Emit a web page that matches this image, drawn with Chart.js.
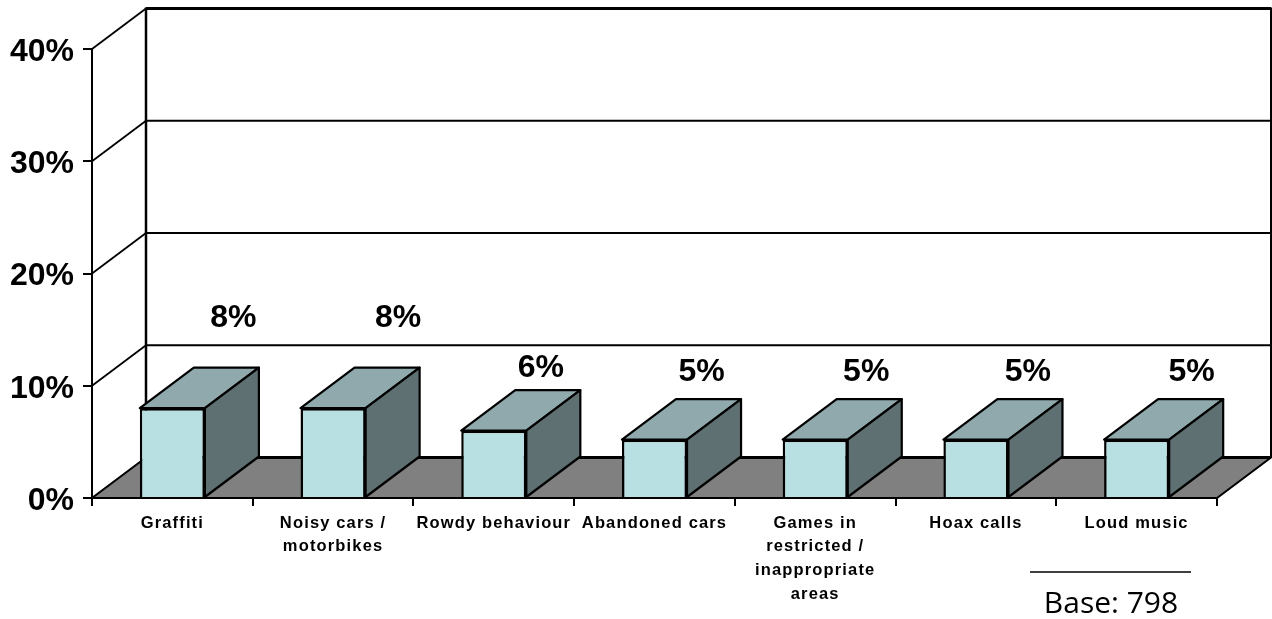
<!DOCTYPE html>
<html>
<head>
<meta charset="utf-8">
<title>Chart</title>
<script src="https://cdn.jsdelivr.net/npm/chart.js@4/dist/chart.umd.min.js"></script>
<style>
  html, body { margin: 0; padding: 0; background: #fff; }
  canvas { display: block; }
</style>
</head>
<body>
<canvas id="myChart" width="1272" height="619"></canvas>
<script>
const categories = [
  "Graffiti",
  ["Noisy cars /", "motorbikes"],
  "Rowdy behaviour",
  "Abandoned cars",
  ["Games in", "restricted /", "inappropriate", "areas"],
  "Hoax calls",
  "Loud music"
];
const values = [8, 8, 6, 5.2, 5.2, 5.2, 5.2];
const valueLabels = ["8%", "8%", "6%", "5%", "5%", "5%", "5%"];
const yTicks = [0, 10, 20, 30, 40];
const baseNote = "Base: 798";

// depth of the fake 3d box, in px
const depthX = 54, depthY = 40.5;
// the data labels sit unevenly in the original
const labelNudgeX = [61, 65, 47, 47, 51, 52, 55];
const labelNudgeY = [90, 90, 62, 67, 67, 67, 67];

function poly(ctx, pts, fill) {
  ctx.beginPath();
  pts.forEach((p, i) => i ? ctx.lineTo(p[0], p[1]) : ctx.moveTo(p[0], p[1]));
  ctx.closePath();
  if (fill) { ctx.fillStyle = fill; ctx.fill(); }
  ctx.stroke();
}

function line(ctx, x1, y1, x2, y2, w) {
  ctx.lineWidth = w;
  ctx.beginPath();
  ctx.moveTo(x1, y1);
  ctx.lineTo(x2, y2);
  ctx.stroke();
}

const box3d = {
  id: "box3d",
  beforeDraw(chart) {
    const ctx = chart.ctx, a = chart.chartArea, y = chart.scales.y, x = chart.scales.x;
    ctx.save();
    ctx.strokeStyle = "#000";
    // floor
    ctx.lineWidth = 2;
    poly(ctx, [[a.left, a.bottom], [a.right, a.bottom], [a.right + depthX, a.bottom - depthY], [a.left + depthX, a.bottom - depthY]], "#808080");
    // back wall lines and the slants down to the axis
    yTicks.forEach(t => {
      const py = y.getPixelForValue(t);
      if (t > 0) line(ctx, a.left, py, a.left + depthX, py - depthY, 1.8);
      line(ctx, a.left + depthX, py - depthY, a.right + depthX, py - depthY, t == 0 || t == 40 ? 3 : 1.8);
    });
    line(ctx, a.left + depthX, a.top - depthY - 1, a.left + depthX, a.bottom - depthY, 2.5);
    line(ctx, a.right + depthX, a.top - depthY - 1, a.right + depthX, a.bottom - depthY, 2);
    ctx.restore();
    // only the category labels are letter spaced
    if (!x.spaced) {
      x.spaced = true;
      const drawLabels = x.drawLabels;
      x.drawLabels = function (area) {
        ctx.letterSpacing = "1.15px";
        drawLabels.call(this, area);
        ctx.letterSpacing = "0px";
      };
    }
  },
  beforeDatasetsDraw(chart) {
    const ctx = chart.ctx;
    ctx.save();
    ctx.strokeStyle = "#000";
    ctx.lineWidth = 2.2;
    ctx.lineJoin = "round";
    chart.getDatasetMeta(0).data.forEach(bar => {
      const l = bar.x - bar.width / 2, r = bar.x + bar.width / 2;
      poly(ctx, [[l, bar.y], [r, bar.y], [r + depthX, bar.y - depthY], [l + depthX, bar.y - depthY]], "#90a9ac");
      poly(ctx, [[r, bar.y], [r, bar.base], [r + depthX, bar.base - depthY], [r + depthX, bar.y - depthY]], "#5f7073");
    });
    ctx.restore();
  },
  afterDatasetsDraw(chart) {
    const ctx = chart.ctx, a = chart.chartArea;
    ctx.save();
    ctx.strokeStyle = "#000";
    // the bars cover the axis line, put it back on top
    line(ctx, a.left, a.bottom, a.right, a.bottom, 2);
    ctx.fillStyle = "#000";
    ctx.textAlign = "center";
    ctx.textBaseline = "middle";
    ctx.font = "bold 32px 'Liberation Sans'";
    chart.getDatasetMeta(0).data.forEach((bar, i) => {
      ctx.fillText(valueLabels[i], bar.x + labelNudgeX[i], bar.y - labelNudgeY[i]);
    });
    // base note, bottom right
    line(ctx, 1030, 572, 1191, 572, 1.5);
    ctx.font = "30px 'Open Sans'";
    ctx.fillText(baseNote, 1111, 604);
    ctx.restore();
  }
};

new Chart("myChart", {
  type: "bar",
  data: {
    labels: categories,
    datasets: [{
      data: values,
      backgroundColor: "#b8e0e3",
      borderColor: "#000",
      borderWidth: 2.5,
      borderSkipped: "bottom",
      barPercentage: 0.405,
      categoryPercentage: 1
    }]
  },
  options: {
    responsive: false,
    animation: false,
    layout: { padding: { left: 0, top: 49, right: 55, bottom: 0 } },
    plugins: { legend: { display: false }, tooltip: { enabled: false } },
    scales: {
      x: {
        afterFit: s => { s.height = 121; },
        grid: { drawOnChartArea: false, color: "#000", lineWidth: 2, tickLength: 8, offset: true },
        border: { color: "#000", width: 2 },
        ticks: {
          autoSkip: false, maxRotation: 0, minRotation: 0, padding: 5,
          color: "#000",
          font: { family: "'Liberation Sans'", size: 16.5, weight: "bold", lineHeight: 1.45 }
        }
      },
      y: {
        min: 0, max: 40,
        afterFit: s => { s.width = 92; },
        grid: { drawOnChartArea: false, color: "#000", lineWidth: 2, tickLength: 9 },
        border: { color: "#000", width: 2 },
        ticks: {
          stepSize: 10, padding: 9, labelOffset: 3,
          color: "#000",
          font: { family: "'Liberation Sans'", size: 32, weight: "bold" },
          callback: v => v + "%"
        }
      }
    }
  },
  plugins: [box3d]
});
</script>
</body>
</html>
